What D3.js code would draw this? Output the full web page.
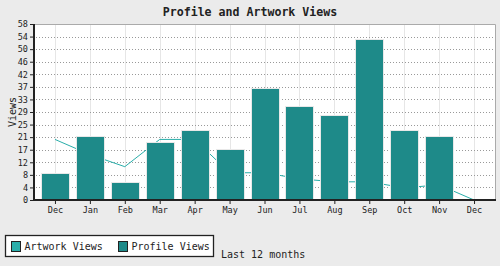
<!DOCTYPE html>
<html>
<head>
<meta charset="utf-8">
<script src="https://cdn.jsdelivr.net/npm/d3@7"></script>
<style>
  html, body { margin: 0; padding: 0; background: #ebebeb; }
  svg { display: block; font-family: "DejaVu Sans Mono", "Liberation Mono", monospace; }
</style>
</head>
<body>
<svg id="chart" width="500" height="266"></svg>
<script>
// ── Data ────────────────────────────────────────────────
const months       = ['Dec', 'Jan', 'Feb', 'Mar', 'Apr', 'May', 'Jun', 'Jul', 'Aug', 'Sep', 'Oct', 'Nov', 'Dec'];
const profileViews = [9, 21, 6, 19, 23, 17, 37, 31, 28, 53, 23, 21];          // bars (no bar for last Dec)
const artworkViews = [20, 15, 11, 20, 20, 9, 9, 7, 6, 6, 4, 5, 0];           // line
const yMax         = 58.1;
const yTickLabels  = ['0', '4', '8', '12', '17', '21', '25', '29', '33', '37', '42', '46', '50', '54', '58'];

const COL_PROFILE = '#1e8a89';
const COL_ARTWORK = '#2aaeaa';

// ── Layout ─────────────────────────────────────────────
const svg = d3.select('#chart');
const plot = { left: 34, right: 495, top: 24, bottom: 200 };
const keys = months.map((m, i) => i);   // months repeat, so index the band

const x = d3.scalePoint()
  .domain(keys)
  .range([plot.left, plot.right])
  .padding(0.6);

const y = d3.scaleLinear()
  .domain([0, yMax])
  .range([plot.bottom, plot.top]);

const barW = x.step() * 0.8;
const yTicks = yTickLabels.map((_, i) => i * yMax / (yTickLabels.length - 1));

// plot background
svg.append('rect')
  .attr('x', plot.left).attr('y', plot.top)
  .attr('width', plot.right - plot.left).attr('height', plot.bottom - plot.top)
  .attr('fill', '#fff');

// vertical grid (solid, light)
svg.append('g')
  .selectAll('line')
  .data(keys).join('line')
  .attr('x1', d => Math.round(x(d)) + 0.5).attr('x2', d => Math.round(x(d)) + 0.5)
  .attr('y1', plot.top).attr('y2', plot.bottom)
  .attr('stroke', '#e6e6e6');

// horizontal grid (dotted)
svg.append('g')
  .selectAll('line')
  .data(yTicks.slice(1)).join('line')
  .attr('x1', plot.left + 2).attr('x2', plot.right)
  .attr('y1', d => Math.round(y(d)) + 0.5).attr('y2', d => Math.round(y(d)) + 0.5)
  .attr('stroke', '#999')
  .attr('stroke-dasharray', '1,2');

// artwork line (behind bars)
svg.append('path')
  .datum(artworkViews)
  .attr('fill', 'none')
  .attr('stroke', COL_ARTWORK)
  .attr('stroke-width', 1)
  .attr('d', d3.line().x((d, i) => x(i)).y(d => y(d)));

// profile bars
svg.append('g')
  .selectAll('rect')
  .data(profileViews).join('rect')
  .attr('x', (d, i) => Math.round(x(i) - barW / 2) + 0.5)
  .attr('y', d => Math.round(y(d)) + 0.5)
  .attr('width', Math.round(barW))
  .attr('height', d => Math.round(plot.bottom) - Math.round(y(d)))
  .attr('fill', COL_PROFILE)
  .attr('stroke', '#e8e8e8')
  .attr('stroke-width', 1);

// top / right border
svg.append('path')
  .attr('d', `M${plot.left},${plot.top + 0.5}H${plot.right + 0.5}V${plot.bottom}`)
  .attr('fill', 'none')
  .attr('stroke', '#aaa');

// ── Axes ───────────────────────────────────────────────
const yAxis = svg.append('g')
  .attr('transform', `translate(${plot.left},0)`)
  .call(d3.axisLeft(y).tickValues(yTicks).tickSize(4).tickPadding(2)
    .tickFormat((d, i) => yTickLabels[i]));

const xAxis = svg.append('g')
  .attr('transform', `translate(0,${plot.bottom})`)
  .call(d3.axisBottom(x).tickSize(4).tickPadding(3)
    .tickFormat(i => months[i]));

[yAxis, xAxis].forEach(g => {
  g.select('.domain').remove();
  g.selectAll('line').attr('stroke', '#222');
  g.selectAll('text').attr('fill', '#222').style('font-size', '8.5px')
    .style('font-family', '"DejaVu Sans Mono", monospace');
});

// axis lines (thicker, dark)
svg.append('line')
  .attr('x1', plot.left).attr('x2', plot.left)
  .attr('y1', plot.top).attr('y2', plot.bottom + 1)
  .attr('stroke', '#222').attr('stroke-width', 2);
svg.append('line')
  .attr('x1', plot.left - 1).attr('x2', plot.right + 1)
  .attr('y1', plot.bottom).attr('y2', plot.bottom)
  .attr('stroke', '#222').attr('stroke-width', 2);

// ── Titles ─────────────────────────────────────────────
svg.append('text')
  .attr('x', 250).attr('y', 16)
  .attr('text-anchor', 'middle')
  .attr('fill', '#222')
  .style('font-size', '11.6px').style('font-weight', 'bold')
  .text('Profile and Artwork Views');

svg.append('text')
  .attr('transform', 'translate(16,112) rotate(-90)')
  .attr('text-anchor', 'middle')
  .attr('fill', '#222')
  .style('font-size', '10px')
  .text('Views');

svg.append('text')
  .attr('x', 221).attr('y', 258)
  .attr('fill', '#222')
  .style('font-size', '10px')
  .text('Last 12 months');

// ── Legend ─────────────────────────────────────────────
const legend = svg.append('g');
legend.append('rect')
  .attr('x', 5.5).attr('y', 235.5)
  .attr('width', 208).attr('height', 21)
  .attr('fill', '#fff').attr('stroke', '#222').attr('stroke-width', 1.3);

const items = [
  { label: 'Artwork Views', color: COL_ARTWORK, x: 11 },
  { label: 'Profile Views', color: COL_PROFILE, x: 118 },
];
const li = legend.selectAll('g.item').data(items).join('g')
  .attr('class', 'item')
  .attr('transform', d => `translate(${d.x},241)`);
li.append('rect')
  .attr('x', 0.5).attr('y', 0.5).attr('width', 9).attr('height', 10)
  .attr('fill', d => d.color).attr('stroke', '#222');
li.append('text')
  .attr('x', 13.5).attr('y', 9)
  .attr('fill', '#222')
  .style('font-size', '10px')
  .text(d => d.label);
</script>
</body>
</html>
